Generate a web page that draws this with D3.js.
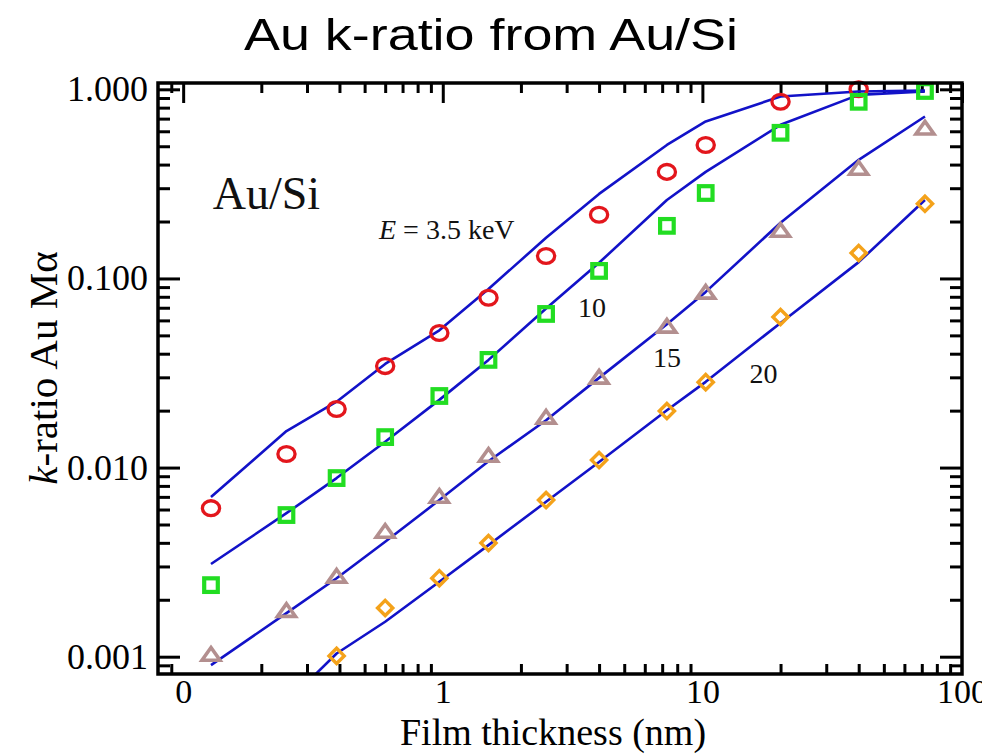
<!DOCTYPE html>
<html>
<head>
<meta charset="utf-8">
<script src="https://cdn.jsdelivr.net/npm/d3@7"></script>
<style>
  html, body { margin: 0; padding: 0; background: #fff; }
  svg { display: block; }
</style>
</head>
<body>
<svg id="chart" width="1002" height="754"></svg>
<script>
// Film thickness (nm) at which Au/Si k-ratios were evaluated
const thickness = [0.128, 0.25, 0.39, 0.6, 0.97, 1.5, 2.5, 4, 7.3, 10.3, 20, 40, 72];

// Measured Au Mα k-ratios (symbols), one array per beam energy
const meas35 = [0.0061, 0.0118, 0.0204, 0.0344, 0.0515, 0.079, 0.1315, 0.217, 0.366, 0.508, 0.859, 1.0, null];
const meas10 = [0.00239, 0.00561, 0.0088, 0.01449, 0.0239, 0.0371, 0.0649, 0.1096, 0.1897, 0.283, 0.589, 0.859, 0.98];
const meas15 = [0.00102, 0.00174, 0.00264, 0.00456, 0.00698, 0.0115, 0.0183, 0.0298, 0.0554, 0.0838, 0.178, 0.379, 0.618];
const meas20 = [null, null, 0.00101, 0.00181, 0.0026, 0.00399, 0.00673, 0.01096, 0.0199, 0.0283, 0.0625, 0.1364, 0.248];

// Calculated k-ratios (lines)
const calc35 = [0.00698, 0.0156, 0.0223, 0.0353, 0.0532, 0.088, 0.164, 0.280, 0.508, 0.676, 0.916, 0.974, 0.986];
const calc10 = [0.00309, 0.00574, 0.0088, 0.01369, 0.0228, 0.0371, 0.0693, 0.121, 0.260, 0.366, 0.649, 0.935, 0.974];
const calc15 = [0.000902, 0.0017, 0.0026, 0.00405, 0.00673, 0.0108, 0.0178, 0.0298, 0.0572, 0.0849, 0.197, 0.424, 0.718];
const calc20 = [null, 0.00057, 0.00104, 0.00153, 0.00249, 0.00389, 0.00659, 0.0107, 0.0201, 0.0284, 0.0582, 0.122, 0.26];

// Axis ticks
const xMajor = [0.1, 1, 10, 100];
const yMajor = [1, 0.1, 0.01, 0.001];
const yTickLabels = ["1.000", "0.100", "0.010", "0.001"];
const xTickLabels = ["0", "1", "10", "100"];

// Curve annotations (data coordinates of each label's baseline start)
const energyLabels = [
  { text: "10", x: 3.32, y: 0.0625 },
  { text: "15", x: 6.46, y: 0.034 },
  { text: "20", x: 15.2, y: 0.028 }
];

const svg = d3.select("#chart");
const W = 1002, H = 754;
const plot = { left: 158, right: 962, top: 83, bottom: 674 };

const x = d3.scaleLog().domain([0.08, 100]).range([plot.left, plot.right]);
const y = d3.scaleLog().domain([0.00081, 1.08]).range([plot.bottom, plot.top]);

const serif = "'Liberation Serif', 'Times New Roman', serif";
const sans = "'Liberation Sans', Arial, sans-serif";

// Title
svg.append("text")
  .attr("x", 491).attr("y", 50)
  .attr("text-anchor", "middle")
  .attr("font-family", sans).attr("font-size", 44)
  .attr("textLength", 494).attr("lengthAdjust", "spacingAndGlyphs")
  .attr("fill", "#000")
  .text("Au k-ratio from Au/Si");

// Minor tick values inside each domain
function minorTicks(scale, majors) {
  const [a, b] = scale.domain();
  const out = [];
  for (let e = -5; e <= 3; e++) {
    for (let m = 2; m <= 9; m++) {
      const v = m * Math.pow(10, e);
      if (v > a * 1.01 && v < b * 0.99) out.push(v);
    }
  }
  return out.filter(v => !majors.some(M => Math.abs(M - v) / M < 1e-9));
}
const xMinor = minorTicks(x, xMajor);
const yMinor = minorTicks(y, yMajor);

// Clip regions
const defs = svg.append("defs");
defs.append("clipPath").attr("id", "plotClip")
  .append("rect")
  .attr("x", plot.left).attr("y", plot.top)
  .attr("width", plot.right - plot.left).attr("height", plot.bottom - plot.top);
defs.append("clipPath").attr("id", "labelClip")
  .append("rect").attr("x", 0).attr("y", 0).attr("width", 982).attr("height", H);

// Inward-pointing ticks on all four sides
function tickAxis(gen, transform, values, size, labels) {
  const g = svg.append("g").attr("transform", transform)
    .call(gen.tickValues(values).tickSizeInner(size).tickSizeOuter(0)
      .tickFormat(labels ? ((d, i) => labels[i]) : ""));
  g.select(".domain").remove();
  g.selectAll(".tick line").attr("stroke", "#000").attr("stroke-width", 3);
  return g;
}

const bottomMajor = tickAxis(d3.axisBottom(x).tickPadding(5), `translate(0,${plot.bottom})`, xMajor, -20, xTickLabels);
bottomMajor.attr("clip-path", "url(#labelClip)");
bottomMajor.selectAll(".tick text")
  .attr("font-family", serif).attr("font-size", 34).attr("fill", "#000");
tickAxis(d3.axisBottom(x), `translate(0,${plot.bottom})`, xMinor, -10);
tickAxis(d3.axisTop(x), `translate(0,${plot.top})`, xMajor, -20);
tickAxis(d3.axisTop(x), `translate(0,${plot.top})`, xMinor, -10);

const leftMajor = tickAxis(d3.axisLeft(y).tickPadding(10), `translate(${plot.left},0)`, yMajor, -22, yTickLabels);
leftMajor.selectAll(".tick text")
  .attr("font-family", serif).attr("font-size", 36).attr("fill", "#000");
tickAxis(d3.axisLeft(y), `translate(${plot.left},0)`, yMinor, -12);
tickAxis(d3.axisRight(y), `translate(${plot.right},0)`, yMajor, -22);
tickAxis(d3.axisRight(y), `translate(${plot.right},0)`, yMinor, -12);

// Calculated curves
const curves = [calc35, calc10, calc15, calc20];
const lineGen = d3.line()
  .defined(d => d[1] != null)
  .x(d => x(d[0])).y(d => y(d[1]));
const curveG = svg.append("g").attr("clip-path", "url(#plotClip)");
curves.forEach(vals => {
  curveG.append("path")
    .datum(thickness.map((t, i) => [t, vals[i]]))
    .attr("d", lineGen)
    .attr("fill", "none")
    .attr("stroke", "#1212c8")
    .attr("stroke-width", 2.6)
    .attr("stroke-linejoin", "round");
});

// Measured symbols
const markG = svg.append("g");
function pts(vals) {
  return thickness.map((t, i) => [t, vals[i]]).filter(d => d[1] != null);
}
markG.selectAll(".circ").data(pts(meas35)).join("ellipse")
  .attr("cx", d => x(d[0])).attr("cy", d => y(d[1]))
  .attr("rx", 8.6).attr("ry", 7.4)
  .attr("fill", "none").attr("stroke", "#e3161c").attr("stroke-width", 3.3);

markG.selectAll(".sq").data(pts(meas10)).join("rect")
  .attr("x", d => x(d[0]) - 6.8).attr("y", d => y(d[1]) - 6.8)
  .attr("width", 13.6).attr("height", 13.6)
  .attr("fill", "none").attr("stroke", "#22dd22").attr("stroke-width", 4.2);

const tri = "M0,-7.5L9,5.2L-9,5.2Z";
markG.selectAll(".tri").data(pts(meas15)).join("path")
  .attr("d", tri)
  .attr("transform", d => `translate(${x(d[0])},${y(d[1])})`)
  .attr("fill", "none").attr("stroke", "#b38f8f").attr("stroke-width", 3.6)
  .attr("stroke-linejoin", "miter");

const dia = "M0,-7.6L7.6,0L0,7.6L-7.6,0Z";
markG.selectAll(".dia").data(pts(meas20)).join("path")
  .attr("d", dia)
  .attr("transform", d => `translate(${x(d[0])},${y(d[1])})`)
  .attr("fill", "none").attr("stroke", "#f4a21a").attr("stroke-width", 3.4);

// Plot frame
svg.append("rect")
  .attr("x", plot.left).attr("y", plot.top)
  .attr("width", plot.right - plot.left).attr("height", plot.bottom - plot.top)
  .attr("fill", "none").attr("stroke", "#000").attr("stroke-width", 3.5);

// In-plot annotations
svg.append("text")
  .attr("x", x(0.13)).attr("y", y(0.233))
  .attr("font-family", serif).attr("font-size", 46).attr("fill", "#111")
  .text("Au/Si");

const eLab = svg.append("text")
  .attr("x", 379).attr("y", 239)
  .attr("font-family", serif).attr("font-size", 28).attr("fill", "#111");
eLab.append("tspan").attr("font-style", "italic").text("E");
eLab.append("tspan").text(" = 3.5 keV");

svg.selectAll(".elab").data(energyLabels).join("text")
  .attr("x", d => x(d.x)).attr("y", d => y(d.y))
  .attr("font-family", serif).attr("font-size", 28).attr("fill", "#111")
  .text(d => d.text);

// Axis titles
svg.append("text")
  .attr("x", (plot.left + plot.right) / 2 - 7).attr("y", 745)
  .attr("text-anchor", "middle")
  .attr("font-family", serif).attr("font-size", 38).attr("fill", "#000")
  .text("Film thickness (nm)");

const yTitle = svg.append("text")
  .attr("transform", "translate(57,368) rotate(-90)")
  .attr("text-anchor", "middle")
  .attr("font-family", serif).attr("font-size", 41).attr("fill", "#000");
yTitle.append("tspan").attr("font-style", "italic").text("k");
yTitle.append("tspan").text("-ratio Au M\u03B1");
</script>
</body>
</html>
